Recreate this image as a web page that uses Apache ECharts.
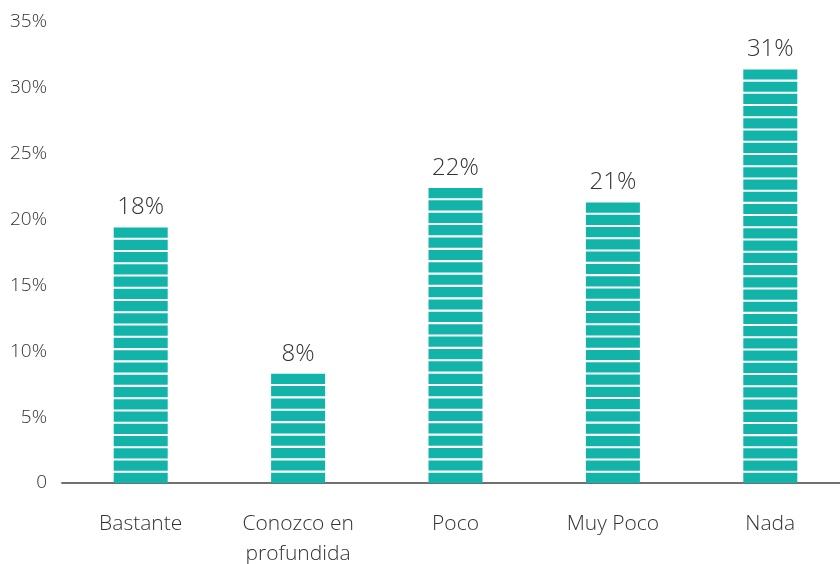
<!DOCTYPE html>
<html>
<head>
<meta charset="utf-8">
<script src="https://cdn.jsdelivr.net/npm/echarts@6/dist/echarts.min.js"></script>
<style>
  html, body { margin: 0; padding: 0; background: #fff; overflow: hidden; }
  #chart { width: 849px; height: 564px; }
</style>
</head>
<body>
<div id="chart"></div>
<script>
// categorias del eje x
var categories = ['Bastante', 'Conozco en\nprofundida', 'Poco', 'Muy Poco', 'Nada'];
// altura de las barras tal como se dibujan
var barHeights = [19.4, 8.3, 22.4, 21.3, 31.4];
// etiquetas que se muestran encima de cada barra
var labelValues = [18, 8, 22, 21, 31];
var yMin = 0, yMax = 35, yStep = 5;

var barColor = '#12b4aa';
var textColor = '#333333';
var fontName = '"Open Sans", "Noto Sans", sans-serif';

var chart = echarts.init(document.getElementById('chart'));
var option = {
  animation: false,
  grid: {
    top: 22,
    left: 62,
    right: 0,
    bottom: 81,
    containLabel: false,
    outerBoundsMode: 'none'
  },
  xAxis: {
    type: 'category',
    data: categories,
    axisLine: {
      show: true,
      lineStyle: { color: '#707070', width: 2 }
    },
    axisTick: { show: false },
    axisLabel: {
      margin: 26,
      color: textColor,
      fontFamily: fontName,
      fontWeight: 300,
      fontSize: 21,
      lineHeight: 30,
      interval: 0
    }
  },
  yAxis: {
    type: 'value',
    min: yMin,
    max: yMax,
    interval: yStep,
    axisLine: { show: false },
    axisTick: { show: false },
    splitLine: { show: false },
    axisLabel: {
      margin: 15,
      color: textColor,
      fontFamily: fontName,
      fontWeight: 300,
      fontSize: 19,
      formatter: function (v) {
        return v === 0 ? '0' : v + '%';
      }
    }
  },
  series: [{
    type: 'pictorialBar',
    symbol: 'rect',
    symbolRepeat: true,
    symbolSize: [54, 10.2],
    symbolMargin: 1.1,
    itemStyle: { color: barColor },
    label: {
      show: true,
      position: 'top',
      distance: 8,
      color: textColor,
      fontFamily: fontName,
      fontWeight: 300,
      fontSize: 24,
      formatter: function (p) {
        return labelValues[p.dataIndex] + '%';
      }
    },
    // cada barra se reparte solo sobre su propia altura
    data: barHeights.map(function (v) {
      return { value: v, symbolBoundingData: v };
    })
  }]
};
chart.setOption(option);
</script>
</body>
</html>
